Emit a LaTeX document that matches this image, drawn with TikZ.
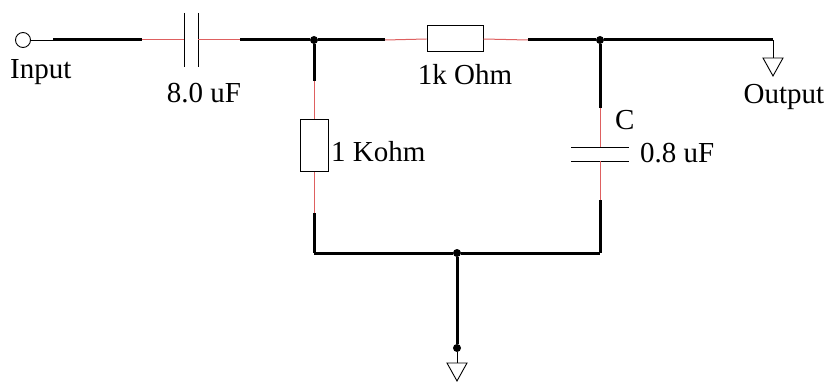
\documentclass[tikz,border=0pt]{standalone}
\usepackage{fontspec}
\setmainfont{Liberation Serif}
\usepackage{xcolor}
\usetikzlibrary{calc}
\usetikzlibrary{positioning}
\definecolor{wirered}{RGB}{222,96,96}

\begin{document}
\begin{tikzpicture}[x=1pt,y=-1pt]
		\tikzset{
			bus/.style={line width=3pt},
			wire/.style={line width=0.9pt},
			lead/.style={wirered,line width=1pt},
			dot/.style={circle,fill,inner sep=0pt,minimum size=8pt},
			lbl/.style={inner sep=0pt,font=\fontsize{29}{32}\selectfont},
			gnd/.pic={\draw[wire] (-10,0) -- (10,0) -- (0,18) -- cycle;}
		}
		\useasboundingbox (0,0) rectangle (829,382);
		
		% top line
		\node[draw,circle,line width=0.9pt,minimum size=15pt,inner sep=0pt] (In) at (23,40) {};
		\coordinate (A) at (53,40);
		\coordinate (B) at (142,40);
		\coordinate (C1a) at (184,40);
		\coordinate (C1b) at (198,40);
		\coordinate (D) at (240,40);
		\node[dot] (J1) at (314,40) {};
		\coordinate (E) at (385,40);
		\node[draw,line width=1pt,minimum width=56pt,minimum height=26pt,inner sep=0pt] (R1) at (455,39) {};
		\coordinate (F) at (528,40);
		\node[dot] (J2) at (600,40) {};
		\coordinate (Out) at (773,40);
		\coordinate (G1) at (773,58);
		
		\draw[wire] (In) -- (A);
		\draw[bus] (A) -- (B);
		\draw[lead] (B) -- (C1a);
		\draw[wire] ($(C1a)+(0,-27)$) -- ($(C1a)+(0,27)$);
		\draw[wire] ($(C1b)+(0,-27)$) -- ($(C1b)+(0,27)$);
		\draw[lead] (C1b) -- (D);
		\draw[bus] (D) -- (J1) -- (E);
		\draw[lead] (E) -- (R1.west);
		\draw[lead] (R1.east) -- (F);
		\draw[bus] (F) -- (J2) -- (Out);
		\draw[wire] (Out) -- (G1);
		\pic at (G1) {gnd};
		
		% left branch
		\coordinate (P) at (314,81);
		\node[draw,line width=1pt,minimum width=28pt,minimum height=52pt,inner sep=0pt] (R2) at (314,146) {};
		\coordinate (Q) at (314,213);
		\coordinate (L) at (314,253);
		\draw[bus] (J1) -- (P);
		\draw[lead] (P) -- (R2.north);
		\draw[lead] (R2.south) -- (Q);
		\draw[bus] (Q) -- (L);
		
		% right branch
		\coordinate (S) at (600,108);
		\coordinate (C2a) at (600,147);
		\coordinate (C2b) at (600,161);
		\coordinate (T) at (600,200);
		\coordinate (Rt) at (600,253);
		\draw[bus] (J2) -- (S);
		\draw[lead] (S) -- (C2a);
		\draw[wire] ($(C2a)+(-29,0)$) -- ($(C2a)+(29,0)$);
		\draw[wire] ($(C2b)+(-29,0)$) -- ($(C2b)+(29,0)$);
		\draw[lead] (C2b) -- (T);
		\draw[bus] (T) -- (Rt);
		
		% bottom
		\node[dot] (J3) at (457,253) {};
		\node[dot] (J4) at (457,348) {};
		\coordinate (G2) at (457,363);
		\draw[bus] (L) -- (J3) -- (Rt);
		\draw[bus] (J3) -- (J4);
		\draw[wire] (J4) -- (G2);
		\pic at (G2) {gnd};
		
		% labels
		\node[lbl,anchor=base west] (tIn) at (10,79) {Input};
		\node[lbl,anchor=base] (tC1) at (204,103) {8.0 uF};
		\node[lbl,anchor=base] (tR1) at (465,85) {1k Ohm};
		\node[lbl,anchor=base] (tOut) at (784,104) {Output};
		\node[lbl,anchor=base west] (tR2) at (331,161) {1 Kohm};
		\node[lbl,anchor=base west] (tC) at (615,130) {C};
		\node[lbl,anchor=base west] (tC2) at (640,163) {0.8 uF};
		
		\end{tikzpicture}
\end{document}
